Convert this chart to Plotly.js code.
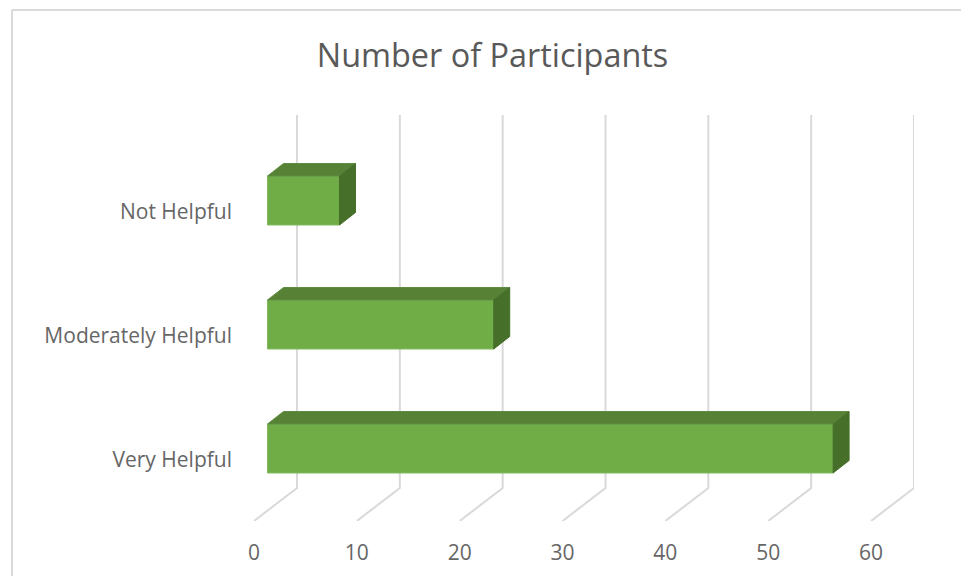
<!DOCTYPE html>
<html><head><meta charset="utf-8">
<script src="https://cdn.plot.ly/plotly-3.0.1.min.js"></script>
<style>html,body{margin:0;padding:0;background:#fff}#c{width:961px;height:576px}</style>
</head><body><div id="c"></div>
<script>
const categories = ["Very Helpful", "Moderately Helpful", "Not Helpful"];
const values = [55, 22, 7];
const xTicks = [0, 10, 20, 30, 40, 50, 60];
const titleText = "Number of Participants";

const W = 961, H = 576;
const L = 254, R = 914, T = 115, B = 521;
const pxPerX = 617 / 60;
const pxPerY = 124;
const y0Px = 460;
const xOf = px => px / pxPerX;
const yOf = px => px / pxPerY;
const wallDx = xOf(43), wallDy = yOf(33);
const startDx = xOf(13.5);
const depthDx = xOf(16), depthDy = yOf(12.5);
const halfH = yOf(24.5), barShift = yOf(11.5);
const yTop = (y0Px - T) / pxPerY, yBot = (y0Px - B) / pxPerY;

const traces = [];
categories.forEach((c, i) => {
  const x1 = startDx, x2 = startDx + values[i];
  const yb = i - halfH + barShift, yt = i + halfH + barShift;
  traces.push({type: "scatter", mode: "lines", fill: "toself", fillcolor: "#578236",
    hoverinfo: "skip", showlegend: false, line: {color: "#5f8c41", width: 1},
    x: [x1, x1 + depthDx, x2 + depthDx, x2, x1],
    y: [yt, yt + depthDy, yt + depthDy, yt, yt]});
  traces.push({type: "scatter", mode: "lines", fill: "toself", fillcolor: "#466f2a",
    hoverinfo: "skip", showlegend: false, line: {color: "#466f2a", width: 1},
    x: [x2, x2 + depthDx, x2 + depthDx, x2, x2],
    y: [yt, yt + depthDy, yb + depthDy, yb, yt]});
  traces.push({type: "bar", orientation: "h", x: [values[i]], y: [yt - halfH], base: [startDx],
    width: [2 * halfH], marker: {color: "#70ad47", line: {color: "#82b95f", width: 1}},
    showlegend: false, hovertemplate: c + ": %{x}<extra></extra>"});
});

const gridShapes = xTicks.map(t => ({
  type: "path", layer: "below", xref: "x", yref: "y",
  path: "M" + t + "," + yBot + " L" + (t + wallDx) + "," + (yBot + wallDy) + " L" + (t + wallDx) + "," + yTop,
  line: {color: "#d9d9d9", width: 2}
}));

const font = "'Open Sans', 'Noto Sans', sans-serif";
const layout = {
  width: W, height: H, showlegend: false,
  paper_bgcolor: "#fff", plot_bgcolor: "rgba(0,0,0,0)",
  margin: {l: L, r: W - R, t: T, b: H - B, pad: 0},
  title: {text: titleText, x: 492.5 / W, xanchor: "center", y: 1 - 56 / H, yanchor: "middle",
    font: {family: font, size: 32.4, color: "#595959"}},
  xaxis: {range: [0, (R - L) / pxPerX], tickvals: xTicks, ticktext: xTicks.map(String),
    showgrid: false, zeroline: false, showline: false, ticks: "", ticklabelstandoff: 17,
    tickfont: {family: font, size: 21, color: "#666"}},
  yaxis: {range: [yBot, yTop], tickvals: [0, 1, 2], ticktext: categories,
    showgrid: false, zeroline: false, showline: false, ticks: "", ticklabelstandoff: 21,
    tickfont: {family: font, size: 21, color: "#666"}},
  shapes: gridShapes.concat([
    {type: "line", xref: "paper", yref: "paper", x0: (12 - L) / (R - L), x1: (12 - L) / (R - L),
      y0: (B - H) / (B - T), y1: (B - 10) / (B - T), line: {color: "#d9d9d9", width: 2}},
    {type: "line", xref: "paper", yref: "paper", x0: (12 - L) / (R - L), x1: (W - L) / (R - L),
      y0: (B - 10) / (B - T), y1: (B - 10) / (B - T), line: {color: "#d9d9d9", width: 2}}
  ])
};
Plotly.newPlot("c", traces, layout, {displayModeBar: false});
</script></body></html>
